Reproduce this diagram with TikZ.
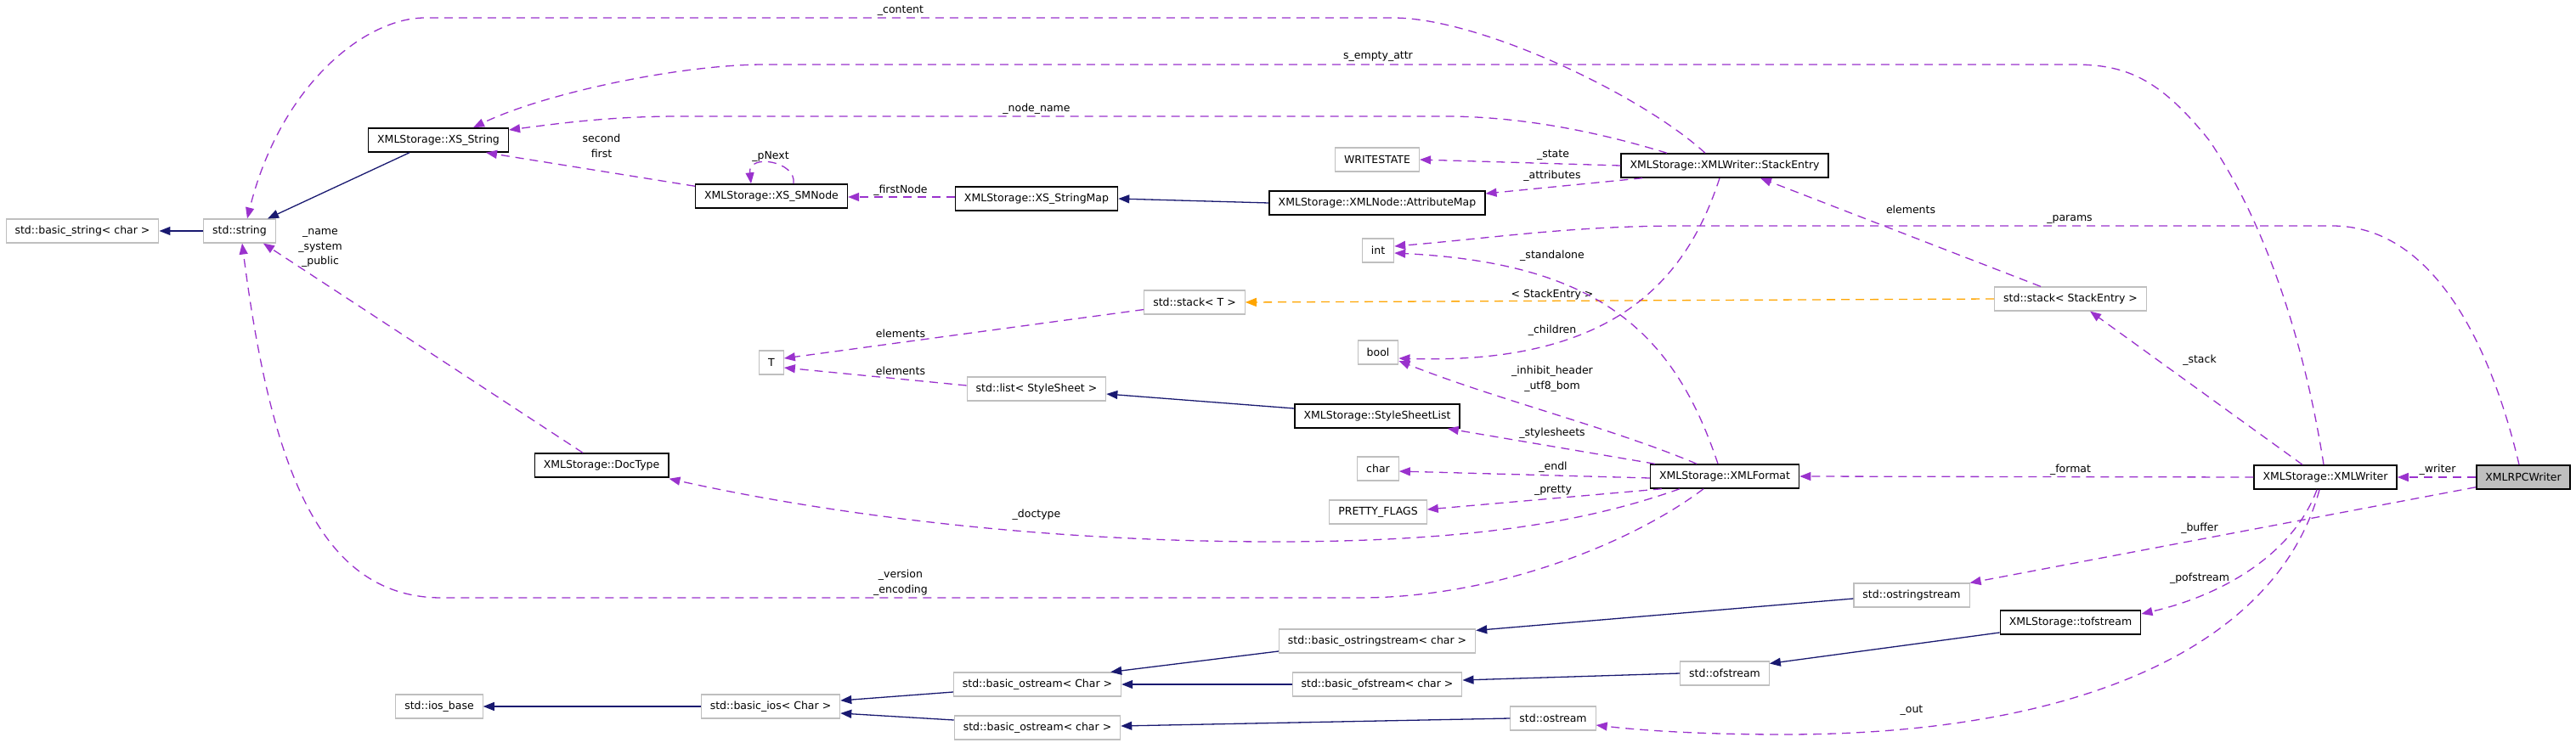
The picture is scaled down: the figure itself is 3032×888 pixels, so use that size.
\documentclass[tikz,border=0pt]{standalone}
\usepackage{fontspec}
\setmainfont{DejaVu Sans}
\usetikzlibrary{positioning,calc,arrows.meta}
\definecolor{memberviolet}{HTML}{9A32CD}
\definecolor{basenavy}{HTML}{191970}
\definecolor{tmplorange}{HTML}{FFA500}
\definecolor{extgray}{HTML}{BFBFBF}

\begin{document}
\begin{tikzpicture}[x=1pt,y=-1pt,
    font=\fontsize{12.5}{17.5}\selectfont,
    cls/.style={rectangle,draw=black,line width=1.5pt,fill=white,minimum height=28pt,inner xsep=10.5pt,inner ysep=0pt},
    ext/.style={cls,draw=extgray,line width=1.1pt},
    member/.style={color=memberviolet,line width=1.3pt,dash pattern=on 10pt off 7pt,-{Triangle[length=13pt,width=10pt]}},
    derived/.style={color=basenavy,line width=1.3pt,-{Triangle[length=13pt,width=10pt]}},
    tmpl/.style={color=tmplorange,line width=1.3pt,dash pattern=on 10pt off 7pt,-{Triangle[length=13pt,width=10pt]}},
    lbl/.style={inner sep=0pt,align=center}]

\useasboundingbox (0,0) rectangle (3032,888);

% classes
\node[ext] (bstring) at (97,272) {std::basic\_string< char >};
\node[ext] (stdstring) at (282,272) {std::string};
\node[cls] (xsstring) at (516,165) {XMLStorage::XS\_String};
\node[cls] (smnode) at (908,231) {XMLStorage::XS\_SMNode};
\node[cls] (stringmap) at (1220,234) {XMLStorage::XS\_StringMap};
\node[cls] (attrmap) at (1621,239) {XMLStorage::XMLNode::AttributeMap};
\node[ext] (writestate) at (1621,188) {WRITESTATE};
\node[cls] (stackentry) at (2030,195) {XMLStorage::XMLWriter::StackEntry};
\node[ext] (intT) at (1622,295) {int};
\node[ext] (stackT) at (1406,356) {std::stack< T >};
\node[ext] (stackSE) at (2437,352) {std::stack< StackEntry >};
\node[ext] (tT) at (908,427) {T};
\node[ext] (boolT) at (1622,415) {bool};
\node[ext] (listSS) at (1220,458) {std::list< StyleSheet >};
\node[cls] (sslist) at (1621,490) {XMLStorage::StyleSheetList};
\node[cls] (doctype) at (708,548) {XMLStorage::DocType};
\node[ext] (charT) at (1622,552) {char};
\node[cls] (xmlformat) at (2030,561) {XMLStorage::XMLFormat};
\node[cls] (xmlwriter) at (2737,562) {XMLStorage::XMLWriter};
\node[cls,fill=extgray] (rpcwriter) at (2970,562) {XMLRPCWriter};
\node[ext] (pflags) at (1622,603) {PRETTY\_FLAGS};
\node[ext] (ostrstream) at (2250,701) {std::ostringstream};
\node[cls] (tofstream) at (2437,733) {XMLStorage::tofstream};
\node[ext] (bostrstream) at (1621,755) {std::basic\_ostringstream< char >};
\node[ext] (ofstream) at (2030,793) {std::ofstream};
\node[ext] (bofstream) at (1621,806) {std::basic\_ofstream< char >};
\node[ext] (bostreamC) at (1221,806) {std::basic\_ostream< Char >};
\node[ext] (bios) at (907,832) {std::basic\_ios< Char >};
\node[ext] (iosbase) at (517,832) {std::ios\_base};
\node[ext] (ostream) at (1828,846) {std::ostream};
\node[ext] (bostreamc) at (1221,857) {std::basic\_ostream< char >};

% inheritance
\draw[derived] (stdstring.west) -- (bstring.east);
\draw[derived] ($(xsstring.south)+(-34,0)$) -- ($(stdstring.north)+(33,0)$);
\draw[derived] (attrmap.west) -- (stringmap.east);
\draw[derived] ($(sslist.west)+(0,-9)$) -- ($(listSS.east)+(0,6)$);
\draw[derived] (bios.west) -- (iosbase.east);
\draw[derived] ($(bostreamC.west)+(0,9)$) -- ($(bios.east)+(0,-7)$);
\draw[derived] ($(bostreamc.west)+(0,-9)$) -- ($(bios.east)+(0,8)$);
\draw[derived] ($(bostrstream.west)+(0,12)$) -- ($(bostreamC.north east)+(-13,0)$);
\draw[derived] (bofstream.west) -- (bostreamC.east);
\draw[derived] (ostream.west) -- ($(bostreamc.east)+(0,-2)$);
\draw[derived] ($(ostrstream.west)+(0,4)$) -- ($(bostrstream.north east)+(0,2)$);
\draw[derived] ($(tofstream.west)+(0,12)$) -- ($(ofstream.north east)+(0,3)$);
\draw[derived] (ofstream.west) -- ($(bofstream.east)+(0,-5)$);

% template instance
\draw[tmpl] (stackSE.west) -- (stackT.east);
\node[lbl] (lInst) at (1827,347) {< StackEntry >};

% members
\draw[member] ($(stackentry.north)+(-23,0)$) .. controls (1930,110) and (1740,21) .. (1640,21)
    -- (500,21) .. controls (430,21) and (330,100) .. ($(stdstring.north)+(9,0)$);
\node[lbl] (lContent) at (1060,13) {\_content};

\draw[member] ($(xmlwriter.north)+(-2,0)$) .. controls (2712,400) and (2665,260) .. (2600,165)
    .. controls (2540,90) and (2500,76) .. (2440,76) -- (900,76)
    .. controls (800,76) and (640,110) .. ($(xsstring.north)+(41,0)$);
\node[lbl] (lEmpty) at (1622,67) {s\_empty\_attr};

\draw[member] ($(stackentry.north)+(-68,0)$) .. controls (1880,155) and (1790,137) .. (1700,137)
    -- (800,137) .. controls (720,137) and (660,145) .. ($(xsstring.east)+(0,-12)$);
\node[lbl] (lNodeName) at (1220,128) {\_node\_name};

\draw[member] ($(smnode.north west)+(0,3)$) -- ($(xsstring.south)+(56,0)$);
\node[lbl] (lPair) at (708,172) {second\\first};

\draw[member] ($(smnode.north)+(26,0)$) .. controls (938,190) and (880,180) .. ($(smnode.north)+(-24,0)$);
\node[lbl] (lNext) at (907,184) {\_pNext};

\draw[member] ($(stringmap.west)+(0,-2)$) -- ($(smnode.east)+(0,1)$);
\node[lbl] (lFirst) at (1060,224) {\_firstNode};

\draw[member] (stackentry.west) -- (writestate.east);
\node[lbl] (lState) at (1828,183) {\_state};

\draw[member] ($(stackentry.south west)+(26,0)$) -- ($(attrmap.east)+(0,-11)$);
\node[lbl] (lAttr) at (1827,207) {\_attributes};

\draw[member] ($(stackSE.north)+(-35,0)$) -- ($(stackentry.south)+(42,0)$);
\node[lbl] (lElemSE) at (2249,247) {elements};

\draw[member] ($(rpcwriter.north)+(-5,0)$) .. controls (2935,420) and (2870,266) .. (2745,266)
    -- (1980,266) .. controls (1850,266) and (1760,280) .. ($(intT.east)+(0,-5)$);
\node[lbl] (lParams) at (2436,258) {\_params};

\draw[member] ($(xmlformat.north)+(-8,0)$) .. controls (1970,390) and (1880,310) .. ($(intT.east)+(0,3)$);
\node[lbl] (lStandalone) at (1827,301) {\_standalone};

\draw[member] ($(stackentry.south)+(-6,0)$) .. controls (1985,330) and (1900,430) .. ($(boolT.east)+(0,7)$);
\node[lbl] (lChildren) at (1827,389) {\_children};

\draw[member] ($(xmlformat.north)+(-33,0)$) .. controls (1900,505) and (1760,470) .. ($(boolT.east)+(0,10)$);
\node[lbl] (lInhibit) at (1827,446) {\_inhibit\_header\\\_utf8\_bom};

\draw[member] ($(xmlformat.north west)+(6,0)$) -- ($(sslist.south east)+(-15,0)$);
\node[lbl] (lSheets) at (1827,510) {\_stylesheets};

\draw[member] ($(xmlformat.west)+(0,2)$) -- ($(charT.east)+(0,3)$);
\node[lbl] (lEndl) at (1828,550) {\_endl};

\draw[member] ($(xmlformat.south west)+(14,0)$) -- ($(pflags.east)+(0,-3)$);
\node[lbl] (lPretty) at (1828,578) {\_pretty};

\draw[member] ($(xmlformat.south)+(-53,0)$) .. controls (1880,610) and (1750,638) .. (1500,638)
    .. controls (1200,638) and (950,600) .. ($(doctype.south east)+(0,1)$);
\node[lbl] (lDoctype) at (1220,606) {\_doctype};

\draw[member] ($(xmlformat.south)+(-25,0)$) .. controls (1920,640) and (1760,704) .. (1600,704)
    -- (520,704) .. controls (380,704) and (320,560) .. ($(stdstring.south)+(3,0)$);
\node[lbl] (lVersion) at (1060,686) {\_version\\\_encoding};

\draw[member] ($(doctype.north)+(-22,0)$) -- ($(stdstring.south east)+(-15,0)$);
\node[lbl] (lIds) at (377,292) {\_name\\\_system\\\_public};

\draw[member] ($(stackT.south west)+(0,-6)$) -- ($(tT.east)+(0,-5)$);
\node[lbl] (lElemT) at (1060,393) {elements};
\draw[member] ($(listSS.west)+(0,-4)$) -- ($(tT.east)+(0,6)$);
\node[lbl] (lElemL) at (1060,437) {elements};

\draw[member] (xmlwriter.west) -- (xmlformat.east);
\node[lbl] (lFormat) at (2437,553) {\_format};

\draw[member] (rpcwriter.west) -- (xmlwriter.east);
\node[lbl] (lWriter) at (2869,553) {\_writer};

\draw[member] ($(rpcwriter.south west)+(0,-3)$) -- (ostrstream.north east);
\node[lbl] (lBuffer) at (2589,622) {\_buffer};

\draw[member] ($(xmlwriter.north)+(-27,0)$) -- ($(stackSE.south)+(23,0)$);
\node[lbl] (lStack) at (2589,424) {\_stack};

\draw[member] ($(xmlwriter.south)+(-10,0)$) .. controls (2700,650) and (2620,700) .. ($(tofstream.east)+(0,-10)$);
\node[lbl] (lPof) at (2589,681) {\_pofstream};

\draw[member] ($(xmlwriter.south)+(-7,0)$) .. controls (2680,760) and (2450,865) .. (2100,865)
    .. controls (2000,865) and (1930,860) .. ($(ostream.east)+(0,8)$);
\node[lbl] (lOut) at (2250,837) {\_out};
\end{tikzpicture}
\end{document}
